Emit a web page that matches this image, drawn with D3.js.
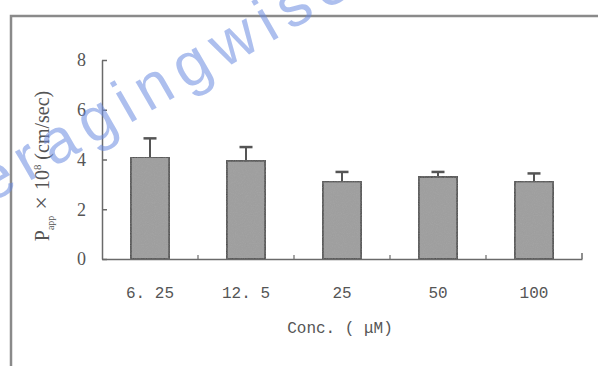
<!DOCTYPE html>
<html>
<head>
<meta charset="utf-8">
<script src="https://cdn.jsdelivr.net/npm/d3@7"></script>
<style>
  body { margin: 0; background: #fff; }
  svg { display: block; }
</style>
</head>
<body>
<svg id="chart" width="598" height="366"></svg>
<script>
// chart data
const concLabels = ['6. 25', '12. 5', '25', '50', '100'];
const pappMean = [4.1, 3.95, 3.12, 3.3, 3.12];
const pappErr = [0.75, 0.55, 0.38, 0.2, 0.32];
const yTicks = [0, 2, 4, 6, 8];

const svg = d3.select('#chart');

// speckled gray fill for the bars
const defs = svg.append('defs');
const filt = defs.append('filter').attr('id', 'grain')
  .attr('x', 0).attr('y', 0).attr('width', 1).attr('height', 1);
filt.append('feTurbulence').attr('type', 'fractalNoise')
  .attr('baseFrequency', 0.9).attr('numOctaves', 2).attr('seed', 3).attr('result', 'noise');
filt.append('feColorMatrix').attr('in', 'noise').attr('type', 'matrix')
  .attr('values', '0 0 0 0 0.3  0 0 0 0 0.3  0 0 0 0 0.3  0 0 0 0.55 0').attr('result', 'dots');
filt.append('feComposite').attr('in', 'dots').attr('in2', 'SourceGraphic').attr('operator', 'in').attr('result', 'dotsIn');
filt.append('feMerge').call(m => {
  m.append('feMergeNode').attr('in', 'SourceGraphic');
  m.append('feMergeNode').attr('in', 'dotsIn');
});

// page frame (scan edges)
svg.append('path')
  .attr('d', 'M11,366 L11,16 L598,16')
  .attr('fill', 'none').attr('stroke', '#8a8a8a').attr('stroke-width', 2.5);

const x = d3.scaleBand()
  .domain(concLabels)
  .range([102, 582])
  .paddingInner(0.6)
  .paddingOuter(0.3);

const y = d3.scaleLinear().domain([0, 8]).range([259, 60]);

const axisColor = '#6a6a6a';

// y axis, ticks pointing inwards
const gy = svg.append('g').attr('transform', 'translate(102,0)')
  .call(d3.axisLeft(y).tickValues(yTicks).tickSize(-5).tickPadding(16).tickSizeOuter(0));
gy.select('.domain').attr('stroke', axisColor).attr('stroke-width', 1.5);
gy.selectAll('.tick line').attr('stroke', axisColor).attr('stroke-width', 1.5);
gy.selectAll('.tick text')
  .attr('font-family', 'Liberation Serif, serif').attr('font-size', 18).attr('fill', '#555');

// x axis labels
const gx = svg.append('g').attr('transform', 'translate(0,259)')
  .call(d3.axisBottom(x).tickSize(0).tickPadding(28));
gx.select('.domain').attr('stroke', axisColor).attr('stroke-width', 1.5);
gx.selectAll('.tick text')
  .attr('font-family', 'Liberation Mono, monospace').attr('font-size', 16).attr('fill', '#555');

// separator ticks between categories, pointing up
const step = x.step();
const seps = concLabels.slice(1).map(d => x(d) - step * x.paddingInner() / 2);
svg.append('g').selectAll('line').data(seps).join('line')
  .attr('x1', d => d).attr('x2', d => d)
  .attr('y1', 259).attr('y2', 255)
  .attr('stroke', axisColor).attr('stroke-width', 1.2);
svg.append('line')
  .attr('x1', x.range()[1]).attr('x2', x.range()[1])
  .attr('y1', 259).attr('y2', 253)
  .attr('stroke', axisColor).attr('stroke-width', 1.5);

// error bars (upper only)
const capW = 13;
const eb = svg.append('g').selectAll('g').data(concLabels).join('g');
eb.append('line')
  .attr('x1', d => x(d) + x.bandwidth() / 2).attr('x2', d => x(d) + x.bandwidth() / 2)
  .attr('y1', (d, i) => y(pappMean[i])).attr('y2', (d, i) => y(pappMean[i] + pappErr[i]))
  .attr('stroke', '#555').attr('stroke-width', 2);
eb.append('line')
  .attr('x1', d => x(d) + x.bandwidth() / 2 - capW / 2).attr('x2', d => x(d) + x.bandwidth() / 2 + capW / 2)
  .attr('y1', (d, i) => y(pappMean[i] + pappErr[i])).attr('y2', (d, i) => y(pappMean[i] + pappErr[i]))
  .attr('stroke', '#555').attr('stroke-width', 2.5);

// bars
svg.append('g').selectAll('rect').data(concLabels).join('rect')
  .attr('x', d => x(d))
  .attr('y', (d, i) => y(pappMean[i]))
  .attr('width', x.bandwidth())
  .attr('height', (d, i) => y(0) - y(pappMean[i]))
  .attr('fill', '#a4a4a4')
  .attr('stroke', '#444').attr('stroke-width', 2)
  .attr('filter', 'url(#grain)');

// axis titles
svg.append('text')
  .attr('x', 340).attr('y', 333)
  .attr('text-anchor', 'middle')
  .attr('font-family', 'Liberation Mono, monospace').attr('font-size', 16).attr('fill', '#555')
  .text('Conc. ( μM)');

const yt = svg.append('text')
  .attr('transform', 'translate(49,166) rotate(-90)')
  .attr('text-anchor', 'middle')
  .attr('font-family', 'Liberation Serif, serif').attr('font-size', 20).attr('fill', '#555');
yt.append('tspan').text('P');
yt.append('tspan').attr('font-size', 10).attr('dy', 5).text('app');
yt.append('tspan').attr('dy', -5).attr('font-size', 24).text(' × ');
yt.append('tspan').text('10');
yt.append('tspan').attr('font-size', 11).attr('dy', -8).text('8');
yt.append('tspan').attr('dy', 8).text(' (cm/sec)');

// watermark
svg.append('text')
  .attr('transform', 'translate(-10,204) rotate(-30)')
  .attr('font-family', 'Liberation Sans, Arial, sans-serif')
  .attr('font-size', 62)
  .attr('letter-spacing', 9)
  .attr('fill', '#6a8ae0').attr('fill-opacity', 0.55)
  .text('eragingwise');
</script>
</body>
</html>
